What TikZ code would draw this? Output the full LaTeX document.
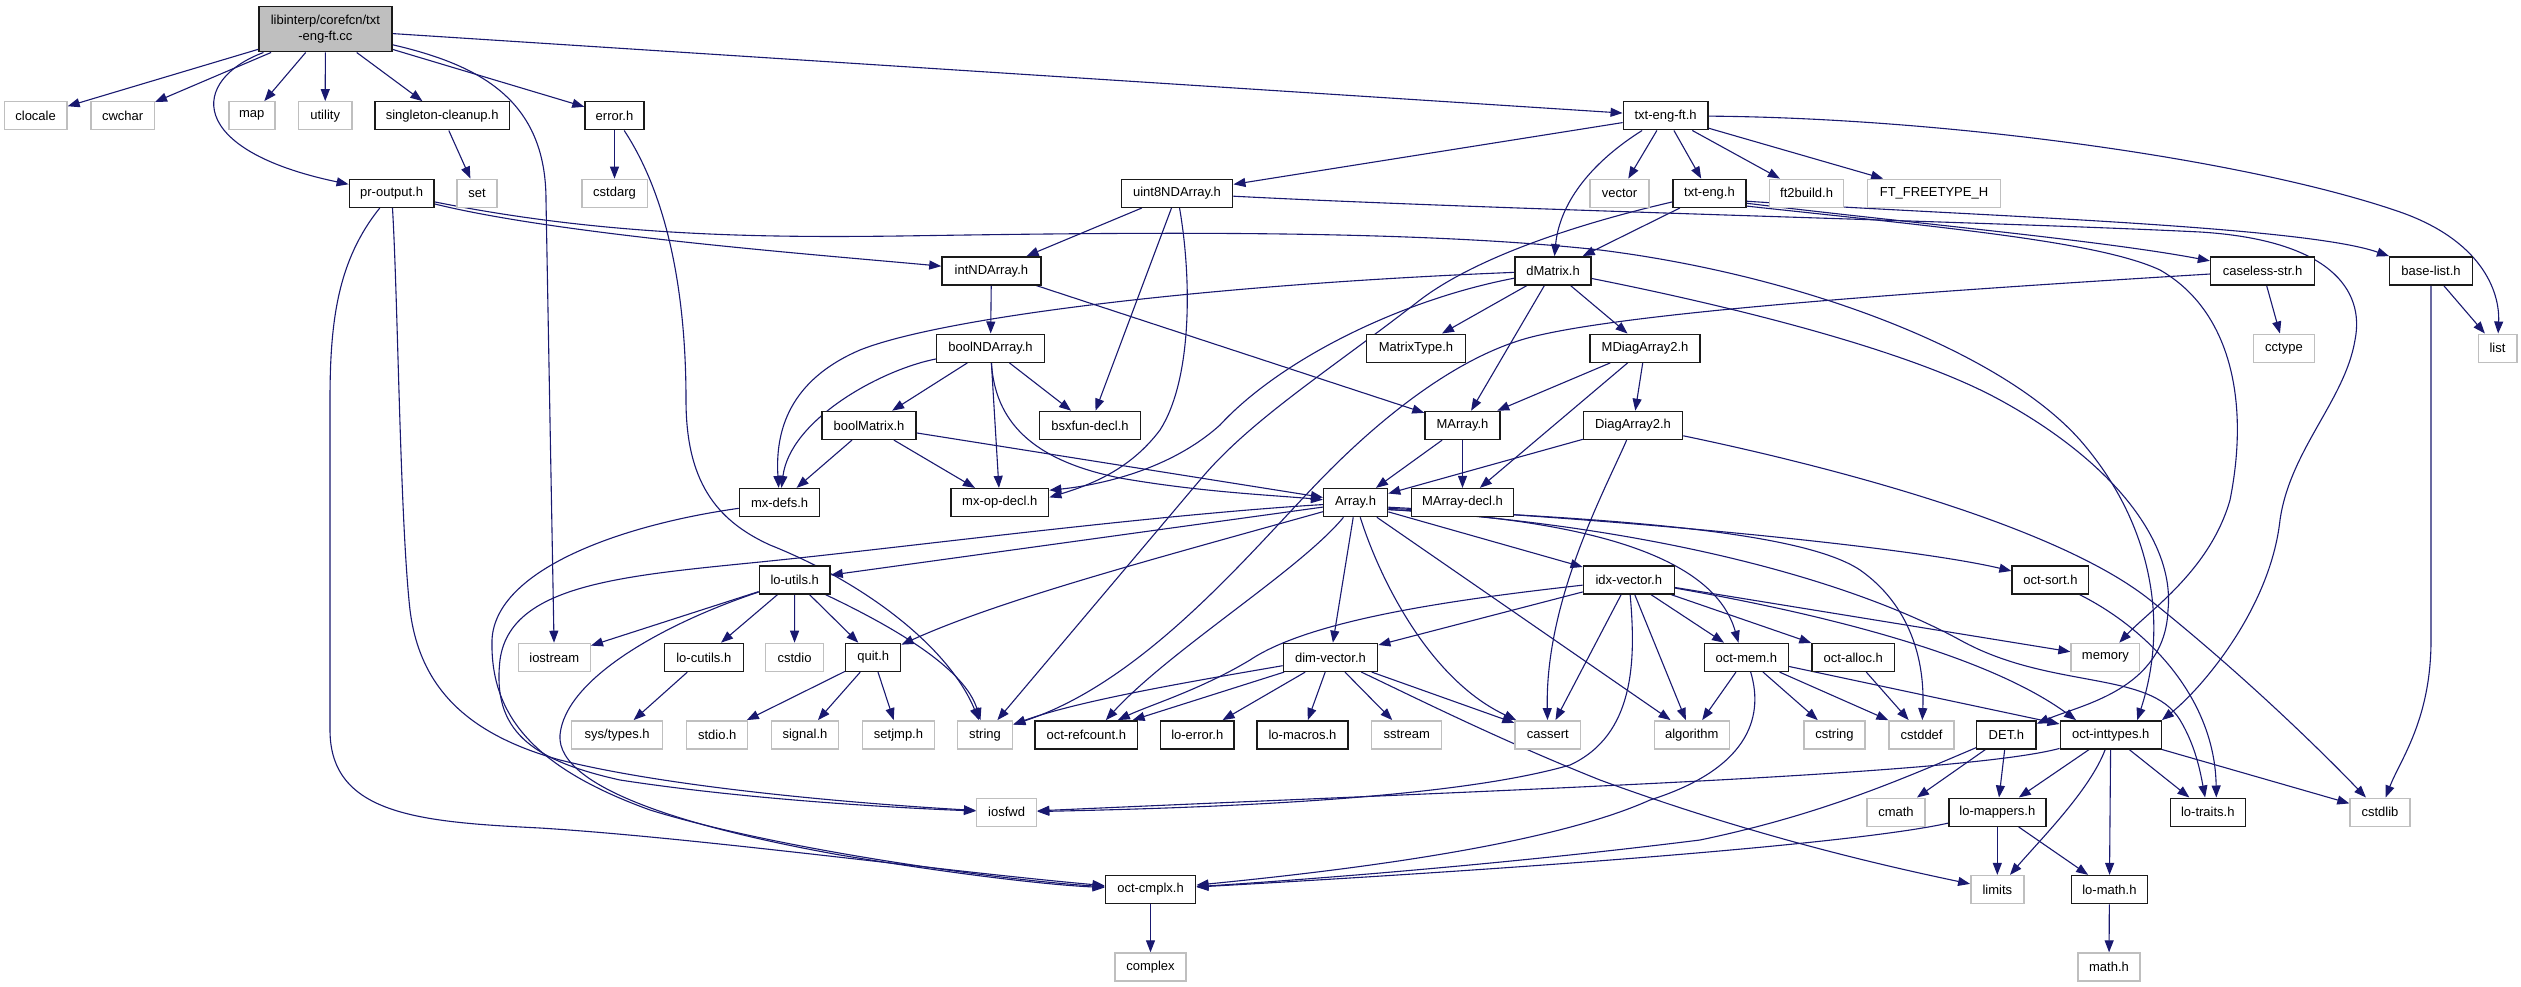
\documentclass[tikz,border=0pt]{standalone}
\usepackage{fontspec}
\setmainfont{Liberation Sans}
\usetikzlibrary{arrows.meta}
\definecolor{edgec}{HTML}{191970}
\definecolor{extc}{HTML}{BFBFBF}
\definecolor{docc}{HTML}{1A1A1A}
\definecolor{mainfill}{HTML}{BFBFBF}
\pgfdeclarelayer{back}
\pgfdeclarelayer{edges}
\pgfsetlayers{back,edges,main}
\tikzset{
  nd/.style={rectangle, inner sep=0pt, minimum height=28pt, line width=1.4pt, fill=white, text=black, font=\fontsize{13}{15}\selectfont},
  doc/.style={nd, draw=docc},
  ext/.style={nd, draw=extc},
  edge/.style={draw=edgec, line width=1.1pt, -{Triangle[length=12pt,width=9pt]}},
}
\begin{document}
\begin{tikzpicture}[x=1pt,y=-1pt]
\useasboundingbox (0,0) rectangle (2521,987);
\begin{pgfonlayer}{back}
\fill[white] (0,0) rectangle (2521,987);
\end{pgfonlayer}
% ---------- nodes ----------
\node[doc, fill=mainfill, minimum width=133pt, minimum height=45pt, align=center, font=\fontsize{13}{16.5}\selectfont] (main) at (325.4,29.3) {libinterp/corefcn/txt\\-eng-ft.cc};
% row 2
\node[ext, minimum width=62.7pt] (clocale) at (35.6,115.8) {clocale};
\node[ext, minimum width=63.2pt] (cwchar) at (122.7,115.8) {cwchar};
\node[ext, minimum width=46pt] (map) at (251.8,115.8) {map};
\node[ext, minimum width=53.6pt] (utility) at (325.2,115.8) {utility};
\node[doc, minimum width=134.5pt] (singleton) at (442.2,115.8) {singleton-cleanup.h};
\node[doc, minimum width=59pt] (error) at (614.5,115.8) {error.h};
\node[doc, minimum width=84.7pt] (txtengft) at (1665.6,115.8) {txt-eng-ft.h};
% row 3
\node[doc, minimum width=84.6pt] (proutput) at (391.6,193.3) {pr-output.h};
\node[ext, minimum width=40pt] (set) at (477,193.3) {set};
\node[ext, minimum width=65.4pt] (cstdarg) at (614.5,193.3) {cstdarg};
\node[doc, minimum width=111.5pt] (uint8) at (1177,193.3) {uint8NDArray.h};
\node[ext, minimum width=59pt] (vector) at (1619.5,193.3) {vector};
\node[doc, minimum width=73pt] (txteng) at (1709.5,193.3) {txt-eng.h};
\node[ext, minimum width=74pt] (ft2build) at (1806.6,193.3) {ft2build.h};
\node[ext, minimum width=133pt] (FT) at (1934,193.3) {FT\_FREETYPE\_H};
% row 4
\node[doc, minimum width=99pt] (intNDArray) at (991.4,270.8) {intNDArray.h};
\node[doc, minimum width=76pt] (dMatrix) at (1553,270.8) {dMatrix.h};
\node[doc, minimum width=104pt] (caseless) at (2262.5,270.8) {caseless-str.h};
\node[doc, minimum width=82.6pt] (baselist) at (2431,270.8) {base-list.h};
% row 5
\node[doc, minimum width=108pt] (boolNDArray) at (990.5,348.2) {boolNDArray.h};
\node[doc, minimum width=98.6pt] (MatrixType) at (1416,348.2) {MatrixType.h};
\node[doc, minimum width=110pt] (MDiagArray2) at (1645,348.2) {MDiagArray2.h};
\node[ext, minimum width=61pt] (cctype) at (2284,348.2) {cctype};
\node[ext, minimum width=38.6pt] (list) at (2497.5,348.2) {list};
% row 6
\node[doc, minimum width=94pt] (boolMatrix) at (869,425.4) {boolMatrix.h};
\node[doc, minimum width=100.7pt] (bsxfun) at (1090,425.4) {bsxfun-decl.h};
\node[doc, minimum width=75pt] (MArray) at (1462.5,425.4) {MArray.h};
\node[doc, minimum width=99pt] (DiagArray2) at (1633,425.4) {DiagArray2.h};
% row 7
\node[doc, minimum width=80.3pt] (mxdefs) at (779.6,502.6) {mx-defs.h};
\node[doc, minimum width=97.7pt] (mxopdecl) at (999.8,502.6) {mx-op-decl.h};
\node[doc, minimum width=64pt] (Array) at (1355.6,502.6) {Array.h};
\node[doc, minimum width=102pt] (MArraydecl) at (1462.5,502.6) {MArray-decl.h};
% row 8
\node[doc, minimum width=70.7pt] (loutils) at (794.7,580) {lo-utils.h};
\node[doc, minimum width=91pt] (idxvector) at (1628.8,580) {idx-vector.h};
\node[doc, minimum width=76.7pt] (octsort) at (2050.4,580) {oct-sort.h};
% row 9
\node[ext, minimum width=72pt] (iostream) at (554.3,657.4) {iostream};
\node[doc, minimum width=79pt] (locutils) at (703.8,657.4) {lo-cutils.h};
\node[ext, minimum width=57.6pt] (cstdio) at (794.5,657.4) {cstdio};
\node[doc, minimum width=55pt] (quit) at (873.2,657.4) {quit.h};
\node[doc, minimum width=94.4pt] (dimvector) at (1330.5,657.4) {dim-vector.h};
\node[doc, minimum width=84pt] (octmem) at (1746.3,657.4) {oct-mem.h};
\node[doc, minimum width=82.6pt] (octalloc) at (1853.3,657.4) {oct-alloc.h};
\node[ext, minimum width=68.7pt] (memory) at (2105.4,657.4) {memory};
% row 10
\node[ext, minimum width=91pt] (systypes) at (617.2,734.8) {sys/types.h};
\node[ext, minimum width=61pt] (stdio) at (717.2,734.8) {stdio.h};
\node[ext, minimum width=66.7pt] (signal) at (805,734.8) {signal.h};
\node[ext, minimum width=71.7pt] (setjmp) at (898.5,734.8) {setjmp.h};
\node[ext, minimum width=55.3pt] (string) at (985,734.8) {string};
\node[doc, minimum width=102.7pt] (octrefcount) at (1086.3,734.8) {oct-refcount.h};
\node[doc, minimum width=73.3pt] (loerror) at (1197.3,734.8) {lo-error.h};
\node[doc, minimum width=91pt] (lomacros) at (1302.5,734.8) {lo-macros.h};
\node[ext, minimum width=70pt] (sstream) at (1406.7,734.8) {sstream};
\node[ext, minimum width=65.7pt] (cassert) at (1547.8,734.8) {cassert};
\node[ext, minimum width=75pt] (algorithm) at (1691.8,734.8) {algorithm};
\node[ext, minimum width=61.2pt] (cstring) at (1834.5,734.8) {cstring};
\node[ext, minimum width=65pt] (cstddef) at (1921.6,734.8) {cstddef};
\node[doc, minimum width=59.5pt] (DET) at (2006.4,734.8) {DET.h};
\node[doc, minimum width=101pt] (octinttypes) at (2110.7,734.8) {oct-inttypes.h};
% row 11
\node[ext, minimum width=60pt] (iosfwd) at (1006.6,812.2) {iosfwd};
\node[ext, minimum width=58pt] (cmath) at (1896,812.2) {cmath};
\node[doc, minimum width=97pt] (lomappers) at (1997.3,812.2) {lo-mappers.h};
\node[doc, minimum width=75pt] (lotraits) at (2207.8,812.2) {lo-traits.h};
\node[ext, minimum width=60pt] (cstdlib) at (2380,812.2) {cstdlib};
% row 12
\node[doc, minimum width=90.5pt] (octcmplx) at (1150.5,889.6) {oct-cmplx.h};
\node[ext, minimum width=53pt] (limits) at (1997.3,889.6) {limits};
\node[doc, minimum width=75.6pt] (lomath) at (2109.4,889.6) {lo-math.h};
% row 13
\node[ext, minimum width=71.2pt] (complex) at (1150.5,967) {complex};
\node[ext, minimum width=62pt] (mathh) at (2109,967) {math.h};
% ---------- edges ----------
\begin{pgfonlayer}{edges}
% straight edges
\draw[edge] (main) -- (clocale);
\draw[edge] (main) -- (cwchar);
\draw[edge] (main) -- (map);
\draw[edge] (main) -- (utility);
\draw[edge] (main) -- (singleton);
\draw[edge] (main) -- (error);
\draw[edge] (main) -- (txtengft);
\draw[edge] (singleton) -- (set);
\draw[edge] (error) -- (cstdarg);
\draw[edge] (txtengft) -- (uint8);
\draw[edge] (txtengft) -- (vector);
\draw[edge] (txtengft) -- (txteng);
\draw[edge] (txtengft) -- (ft2build);
\draw[edge] (txtengft) -- (FT);
\draw[edge] (txteng) -- (dMatrix);
\draw[edge] (uint8) -- (intNDArray);
\draw[edge] (uint8) -- (bsxfun);
\draw[edge] (intNDArray) -- (boolNDArray);
\draw[edge] (intNDArray) -- (MArray);
\draw[edge] (boolNDArray) -- (boolMatrix);
\draw[edge] (boolNDArray) -- (bsxfun);
\draw[edge] (boolNDArray) -- (mxopdecl);
\draw[edge] (boolMatrix) -- (mxopdecl);
\draw[edge] (boolMatrix) -- (Array);
\draw[edge] (boolMatrix) -- (mxdefs);
\draw[edge] (dMatrix) -- (MatrixType);
\draw[edge] (dMatrix) -- (MArray);
\draw[edge] (dMatrix) -- (MDiagArray2);
\draw[edge] (MDiagArray2) -- (MArray);
\draw[edge] (MDiagArray2) -- (DiagArray2);
\draw[edge] (MDiagArray2) -- (MArraydecl);
\draw[edge] (MArray) -- (Array);
\draw[edge] (MArray) -- (MArraydecl);
\draw[edge] (DiagArray2) -- (Array);
\draw[edge] (caseless) -- (cctype);
\draw[edge] (baselist) -- (list);
\draw[edge] (loutils) -- (iostream);
\draw[edge] (loutils) -- (locutils);
\draw[edge] (loutils) -- (cstdio);
\draw[edge] (loutils) -- (quit);
\draw[edge] (locutils) -- (systypes);
\draw[edge] (quit) -- (stdio);
\draw[edge] (quit) -- (signal);
\draw[edge] (quit) -- (setjmp);
\draw[edge] (Array) -- (loutils);
\draw[edge] (Array) -- (dimvector);
\draw[edge] (Array) -- (algorithm);
\draw[edge] (Array) -- (idxvector);
\draw[edge] (idxvector) -- (dimvector);
\draw[edge] (idxvector) -- (cassert);
\draw[edge] (idxvector) -- (algorithm);
\draw[edge] (idxvector) -- (octmem);
\draw[edge] (idxvector) -- (octalloc);
\draw[edge] (idxvector) -- (memory);
\draw[edge] (dimvector) -- (octrefcount);
\draw[edge] (dimvector) -- (loerror);
\draw[edge] (dimvector) -- (lomacros);
\draw[edge] (dimvector) -- (sstream);
\draw[edge] (dimvector) -- (cassert);
\draw[edge] (octmem) -- (algorithm);
\draw[edge] (octmem) -- (cstring);
\draw[edge] (octmem) -- (cstddef);
\draw[edge] (octmem) -- (octinttypes);
\draw[edge] (octalloc) -- (cstddef);
\draw[edge] (DET) -- (cmath);
\draw[edge] (DET) -- (lomappers);
\draw[edge] (octinttypes) -- (lomappers);
\draw[edge] (octinttypes) -- (lomath);
\draw[edge] (octinttypes) -- (lotraits);
\draw[edge] (octinttypes) -- (cstdlib);
\draw[edge] (lomappers) -- (limits);
\draw[edge] (lomappers) -- (lomath);
\draw[edge] (lomath) -- (mathh);
\draw[edge] (octcmplx) -- (complex);
% curved edges
\draw[edge] (main) .. controls (480,65) and (546,100) .. (546,200) -- (iostream);
\draw[edge] (main) .. controls (190,80) and (185,150) .. (proutput);
\draw[edge] (error) .. controls (670,200) and (686,300) .. (686,400) .. controls (686,480) and (715,520) .. (770,545) .. controls (870,585) and (950,650) .. (string);
\draw[edge] (proutput) .. controls (560,235) and (820,255) .. (intNDArray);
\draw[edge] (proutput) .. controls (600,235) and (750,238) .. (900,236) .. controls (1100,233) and (1400,228) .. (1600,250) .. controls (1800,275) and (2000,350) .. (2080,440) .. controls (2150,520) and (2170,620) .. (octinttypes.29);
\draw[edge] (proutput) .. controls (398,300) and (400,520) .. (410,610) .. controls (420,690) and (470,735) .. (560,760) .. controls (680,790) and (880,805) .. (iosfwd);
\draw[edge] (proutput) .. controls (338,260) and (330,320) .. (330,400) -- (330,730) .. controls (330,815) and (420,822) .. (540,828) .. controls (700,838) and (950,872) .. (octcmplx);
\draw[edge] (txtengft) .. controls (1595,160) and (1560,200) .. (dMatrix);
\draw[edge] (txtengft) .. controls (1950,118) and (2250,160) .. (2400,212) .. controls (2480,240) and (2500,290) .. (list);
\draw[edge] (txteng) .. controls (1560,228) and (1470,262) .. (1420,300) .. controls (1330,370) and (1250,420) .. (1200,480) -- (string);
\draw[edge] (txteng.-15) .. controls (1900,222) and (2100,240) .. (caseless);
\draw[edge] (txteng.-12) .. controls (1950,215) and (2300,225) .. (baselist);
\draw[edge] (txteng.-19) .. controls (1950,228) and (2100,242) .. (2160,270) .. controls (2230,310) and (2250,400) .. (2230,500) .. controls (2210,570) and (2150,610) .. (memory);
\draw[edge] (uint8) .. controls (1192,280) and (1192,380) .. (1160,430) .. controls (1130,470) and (1090,485) .. (mxopdecl.6);
\draw[edge] (uint8) .. controls (1500,210) and (2000,222) .. (2200,232) .. controls (2330,240) and (2365,290) .. (2355,340) .. controls (2345,400) and (2290,450) .. (2280,520) .. controls (2270,610) and (2200,690) .. (octinttypes.north east);
\draw[edge] (boolNDArray) .. controls (995,420) and (1030,460) .. (1120,478) .. controls (1200,492) and (1270,495) .. (Array);
\draw[edge] (boolNDArray) .. controls (880,370) and (790,420) .. (mxdefs);
\draw[edge] (dMatrix) .. controls (1200,285) and (940,318) .. (860,350) .. controls (790,380) and (775,430) .. (mxdefs);
\draw[edge] (dMatrix) .. controls (1400,300) and (1280,360) .. (1220,425) .. controls (1170,470) and (1100,485) .. (mxopdecl.14);
\draw[edge] (dMatrix) .. controls (1700,300) and (1900,345) .. (2000,400) .. controls (2110,460) and (2175,540) .. (2168,610) .. controls (2165,690) and (2080,705) .. (DET.20);
\draw[edge] (DiagArray2) .. controls (1605,490) and (1545,600) .. (cassert);
\draw[edge] (DiagArray2) .. controls (1800,460) and (2050,520) .. (2150,600) .. controls (2250,680) and (2330,760) .. (cstdlib);
\draw[edge] (caseless) .. controls (1950,290) and (1650,310) .. (1540,335) .. controls (1460,352) and (1380,420) .. (1330,470) .. controls (1260,540) and (1150,680) .. (string.20);
\draw[edge] (baselist) -- (2431,640) .. controls (2431,720) and (2400,760) .. (cstdlib);
\draw[edge] (mxdefs) .. controls (620,525) and (495,570) .. (492,640) .. controls (490,720) and (540,770) .. (650,810) .. controls (780,850) and (1000,880) .. (octcmplx);
\draw[edge] (loutils) .. controls (900,630) and (965,670) .. (string);
\draw[edge] (loutils) .. controls (660,625) and (565,680) .. (560,735) .. controls (556,790) and (700,830) .. (840,855) .. controls (960,875) and (1050,885) .. (octcmplx);
\draw[edge] (Array) .. controls (1150,515) and (900,548) .. (760,562) .. controls (620,576) and (510,585) .. (500,660) .. controls (492,730) and (530,760) .. (620,780) .. controls (750,800) and (900,808) .. (iosfwd);
\draw[edge] (Array) .. controls (1150,560) and (1000,600) .. (quit);
\draw[edge] (Array) .. controls (1300,570) and (1170,650) .. (octrefcount.37);
\draw[edge] (Array) .. controls (1380,580) and (1430,680) .. (cassert);
\draw[edge] (Array.-12) .. controls (1600,520) and (1715,560) .. (octmem.118);
\draw[edge] (Array.-8) .. controls (1600,518) and (1900,545) .. (octsort);
\draw[edge] (Array.-10) .. controls (1600,518) and (1800,530) .. (1860,570) .. controls (1910,605) and (1925,660) .. (cstddef);
\draw[edge] (Array.-12) .. controls (1650,525) and (1850,580) .. (1960,640) .. controls (2050,690) and (2150,670) .. (2180,720) .. controls (2195,745) and (2200,770) .. (lotraits);
\draw[edge] (idxvector) .. controls (1450,600) and (1310,620) .. (1250,660) .. controls (1200,690) and (1150,705) .. (octrefcount.25);
\draw[edge] (idxvector) .. controls (1636,660) and (1635,735) .. (1570,765) .. controls (1450,800) and (1200,808) .. (iosfwd);
\draw[edge] (idxvector) .. controls (1800,610) and (1980,650) .. (octinttypes.157);
\draw[edge] (dimvector) .. controls (1200,680) and (1080,700) .. (string.20);
\draw[edge] (dimvector) .. controls (1420,700) and (1500,740) .. (1600,780) .. controls (1750,835) and (1880,865) .. (limits);
\draw[edge] (octmem) .. controls (1765,720) and (1745,770) .. (1650,800) .. controls (1550,845) and (1350,870) .. (octcmplx);
\draw[edge] (octsort) .. controls (2150,630) and (2215,700) .. (lotraits.60);
\draw[edge] (DET) .. controls (1900,780) and (1820,815) .. (1700,840) .. controls (1500,865) and (1300,880) .. (octcmplx);
\draw[edge] (octinttypes) .. controls (1960,775) and (1500,790) .. (iosfwd);
\draw[edge] (octinttypes) .. controls (2090,790) and (2040,840) .. (limits);
\draw[edge] (lomappers) .. controls (1850,845) and (1500,870) .. (octcmplx);
\end{pgfonlayer}
\end{tikzpicture}
\end{document}
